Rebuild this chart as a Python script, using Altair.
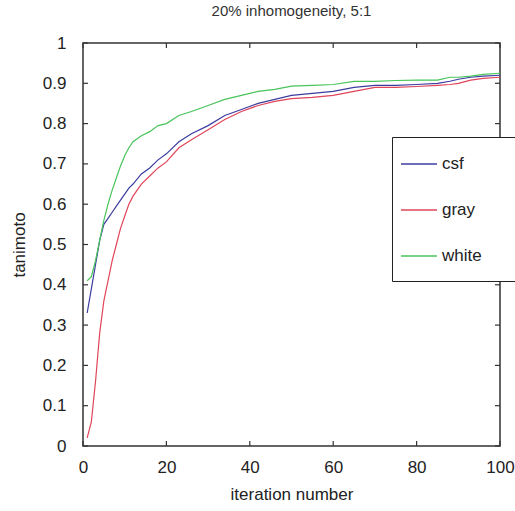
import altair as alt
import pandas as pd

# ---- data ----
iterations = [1, 2, 3, 4, 5, 6, 7, 8, 9, 10, 11, 12, 14, 16, 18, 20, 23, 26, 30, 34,
              38, 42, 46, 50, 55, 60, 65, 70, 75, 80, 85, 88, 90, 93, 96, 100]
csf = [0.33, 0.39, 0.45, 0.51, 0.55, 0.565, 0.58, 0.595, 0.61, 0.625, 0.64, 0.65,
       0.675, 0.69, 0.71, 0.725, 0.755, 0.775, 0.795, 0.82, 0.835, 0.85, 0.86, 0.87,
       0.875, 0.88, 0.89, 0.895, 0.895, 0.897, 0.90, 0.905, 0.91, 0.915, 0.918, 0.92]
gray = [0.02, 0.06, 0.16, 0.28, 0.36, 0.41, 0.46, 0.50, 0.54, 0.57, 0.60, 0.62,
        0.65, 0.67, 0.69, 0.705, 0.74, 0.76, 0.785, 0.81, 0.83, 0.845, 0.855, 0.862,
        0.865, 0.87, 0.88, 0.89, 0.89, 0.892, 0.895, 0.897, 0.90, 0.908, 0.912, 0.915]
white = [0.41, 0.42, 0.46, 0.51, 0.56, 0.60, 0.635, 0.665, 0.695, 0.72, 0.74, 0.755,
         0.77, 0.78, 0.795, 0.80, 0.82, 0.83, 0.845, 0.86, 0.87, 0.88, 0.885, 0.893,
         0.895, 0.897, 0.905, 0.905, 0.907, 0.908, 0.908, 0.915, 0.915, 0.918, 0.922, 0.925]
series_names = ["csf", "gray", "white"]
series_colors = ["#3c3ca0", "#e0455a", "#48c45a"]
x_ticks = [0, 20, 40, 60, 80, 100]
y_ticks = [0, 0.1, 0.2, 0.3, 0.4, 0.5, 0.6, 0.7, 0.8, 0.9, 1.0]

rows = []
for name, vals in zip(series_names, [csf, gray, white]):
    for it, v in zip(iterations, vals):
        rows.append({"iteration": it, "tanimoto": v, "series": name})
df = pd.DataFrame(rows)
xt = pd.DataFrame({"iteration": x_ticks})
yt = pd.DataFrame({"tanimoto": y_ticks})

W, H = 417, 403
FONT = "Liberation Sans"
xscale = alt.Scale(domain=[0, 100], nice=False, zero=False)
yscale = alt.Scale(domain=[0, 1], nice=False)
xaxis = alt.Axis(values=x_ticks, title="iteration number", labelPadding=13,
                 titlePadding=11, labelFlush=False)
yaxis = alt.Axis(values=y_ticks, format="~g", title="tanimoto", labelPadding=17,
                 titlePadding=14, labelFlush=False)
TICK = "#333333"

lines = alt.Chart(df).mark_line(strokeWidth=1.2, clip=True).encode(
    x=alt.X("iteration:Q", scale=xscale, axis=xaxis),
    y=alt.Y("tanimoto:Q", scale=yscale, axis=yaxis),
    color=alt.Color("series:N",
                    scale=alt.Scale(domain=series_names, range=series_colors),
                    legend=alt.Legend(orient="none", legendX=309, legendY=94,
                                      title="MMMMMMMMMMMMMMMMMMMMMMMMMMMMM",
                                      titleOrient="bottom", titleFontSize=5,
                                      titleColor="white", titleLimit=400, titlePadding=4,
                                      symbolType="stroke", symbolSize=1296,
                                      symbolStrokeWidth=1.5, labelFontSize=17,
                                      labelFont=FONT, labelColor="#222222",
                                      padding=8, rowPadding=19, strokeColor="#222222",
                                      fillColor="white")),
)

tb = alt.Chart(xt).mark_rule(color=TICK, strokeWidth=1.2).encode(
    x=alt.X("iteration:Q", scale=xscale, axis=xaxis), y=alt.value(H), y2=alt.value(H - 5))
tt = alt.Chart(xt).mark_rule(color=TICK, strokeWidth=1.2).encode(
    x=alt.X("iteration:Q", scale=xscale, axis=xaxis), y=alt.value(0), y2=alt.value(5))
tl = alt.Chart(yt).mark_rule(color=TICK, strokeWidth=1.2).encode(
    y=alt.Y("tanimoto:Q", scale=yscale, axis=yaxis), x=alt.value(0), x2=alt.value(5))
tr = alt.Chart(yt).mark_rule(color=TICK, strokeWidth=1.2).encode(
    y=alt.Y("tanimoto:Q", scale=yscale, axis=yaxis), x=alt.value(W), x2=alt.value(W - 5))

chart = alt.layer(lines, tb, tt, tl, tr).properties(
    width=W, height=H,
    title=alt.TitleParams("20% inhomogeneity, 5:1", font=FONT, fontSize=15,
                          fontWeight="normal", color="#333333", anchor="middle", offset=15),
    padding={"left": 83, "top": 43, "right": 15, "bottom": 65},
    autosize=alt.AutoSizeParams(type="none"),
).configure_view(stroke="#333333", strokeWidth=1.5).configure_axis(
    domain=False, ticks=False, grid=False,
    labelFont=FONT, labelFontSize=17, labelColor="#222222",
    titleFont=FONT, titleFontSize=17, titleFontWeight="normal", titleColor="#222222",
)

chart.save("out.html", embed_options={"renderer": "svg", "actions": False})
